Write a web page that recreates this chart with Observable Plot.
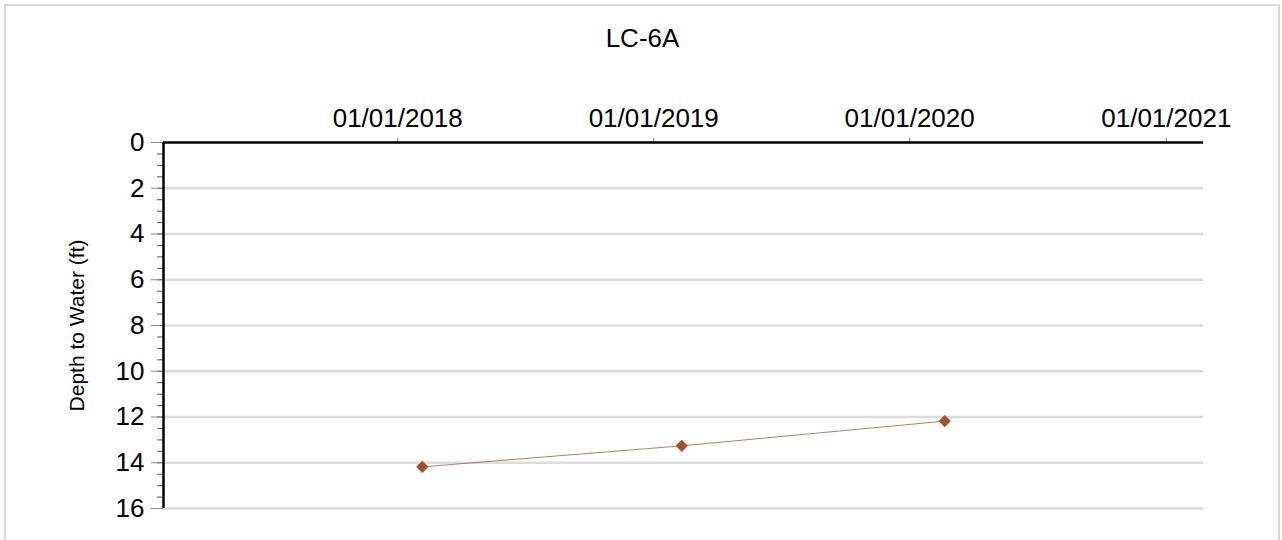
<!DOCTYPE html>
<html>
<head>
<meta charset="utf-8">
<script src="https://cdn.jsdelivr.net/npm/d3@7"></script>
<script src="https://cdn.jsdelivr.net/npm/@observablehq/plot@0.6"></script>
<style>
  html, body { margin: 0; padding: 0; background: white; overflow: hidden; }
  #wrap { position: relative; width: 1282px; height: 540px; }
  #frame { position: absolute; left: 4px; top: 4px; width: 1276px; height: 600px;
           box-sizing: border-box; border: 2px solid #dadada; pointer-events: none; }
</style>
</head>
<body>
<div id="wrap"><div id="frame"></div></div>
<script>
const chartTitle = "LC-6A";
const yLabel = "Depth to Water (ft)";
const sampleDates = ["2018-02-05", "2019-02-10", "2020-02-20"];
const depths = [14.18, 13.26, 12.18];
const xTickLabels = ["01/01/2018", "01/01/2019", "01/01/2020", "01/01/2021"];
const xTickDates = ["2018-01-01", "2019-01-01", "2020-01-01", "2021-01-01"];
const xDomain = ["2017-02-01", "2021-02-23"];
const yMajor = [0, 2, 4, 6, 8, 10, 12, 14, 16];
const yMinor = d3.range(0, 16.001, 0.5);

const data = sampleDates.map((d, i) => ({date: new Date(d), depth: depths[i]}));
const xTicks = xTickDates.map(d => new Date(d));
const labelOf = new Map(xTicks.map((d, i) => [+d, xTickLabels[i]]));
const x0 = new Date(xDomain[0]);

const chart = Plot.plot({
  width: 1282,
  height: 540,
  marginLeft: 163,
  marginRight: 79,
  marginTop: 142,
  marginBottom: 32,
  style: {fontFamily: "'Liberation Sans', Arial, sans-serif", fontSize: "26px", color: "black", background: "transparent"},
  x: {type: "utc", domain: xDomain.map(d => new Date(d))},
  y: {domain: [0, 16], reverse: true},
  marks: [
    Plot.ruleY(yMajor.filter(v => v > 0), {stroke: "#dcdcdc", strokeWidth: 2.5}),
    Plot.axisY({ticks: yMinor, tickSize: 6, tickFormat: () => "", stroke: "#555", label: null}),
    Plot.axisY({ticks: yMajor, tickSize: 12, tickPadding: 7, stroke: "#888", fontSize: 26, label: null}),
    Plot.axisX({anchor: "top", ticks: xTicks, tickFormat: d => labelOf.get(+d), tickSize: 5, tickPadding: 11, stroke: "#777", fontSize: 26, label: null}),
    Plot.ruleY([0], {stroke: "black", strokeWidth: 2.5}),
    Plot.ruleX([x0], {y1: 0, y2: 16, stroke: "black", strokeWidth: 2.5}),
    Plot.line(data, {x: "date", y: "depth", stroke: "#a0522d", strokeWidth: 1, strokeOpacity: 0.75}),
    Plot.dot(data, {x: "date", y: "depth", symbol: "diamond2", r: 5.5, fill: "#a0522d", stroke: "none"}),
    Plot.text([chartTitle], {frameAnchor: "top", text: d => d, dx: -41, dy: -114, fontSize: 26}),
    Plot.text([yLabel], {frameAnchor: "left", textAnchor: "middle", text: d => d, rotate: -90, dx: -86, fontSize: 21})
  ]
});
document.getElementById("wrap").insertBefore(chart, document.getElementById("frame"));
chart.style.position = "absolute";
chart.style.left = "0";
chart.style.top = "0";
</script>
</body>
</html>
